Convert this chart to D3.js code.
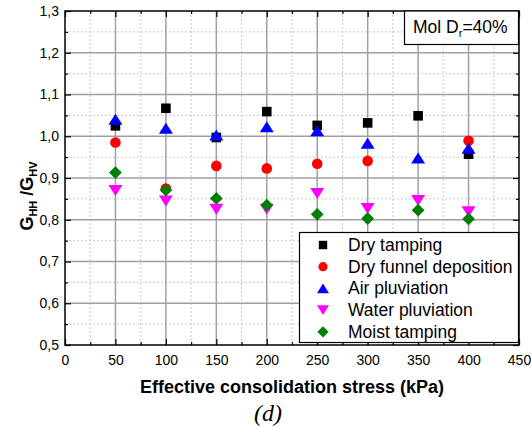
<!DOCTYPE html>
<html>
<head>
<meta charset="utf-8">
<script src="https://cdn.jsdelivr.net/npm/d3@7"></script>
<style>
  body { margin: 0; background: #fff; }
  text { font-family: "Liberation Sans", Arial, sans-serif; fill: #000; }
</style>
</head>
<body>
<div id="chart"></div>
<script>
// values
var stress = [50, 100, 150, 200, 250, 300, 350, 400];
var dryTamping = [1.025, 1.067, 0.997, 1.059, 1.026, 1.032, 1.049, 0.957];
var dryFunnel = [0.985, 0.875, 0.929, 0.923, 0.934, 0.941, null, 0.989];
var airPluv = [1.041, 1.019, 1.003, 1.023, 1.013, 0.983, 0.948, 0.971];
var waterPluv = [0.870, 0.845, 0.825, 0.825, 0.863, 0.827, 0.846, 0.819];
var moistTamp = [0.913, 0.871, 0.851, 0.835, 0.813, 0.803, 0.823, 0.802];

var seriesNames = ["Dry tamping", "Dry funnel deposition", "Air pluviation", "Water pluviation", "Moist tamping"];
var seriesValues = [dryTamping, dryFunnel, airPluv, waterPluv, moistTamp];
var seriesColors = ["#000000", "#ff0000", "#0000ff", "#ff00ff", "#008000"];
var seriesShapes = ["square", "circle", "up", "down", "diamond"];

var xTicks = [0, 50, 100, 150, 200, 250, 300, 350, 400, 450];
var yTicks = [0.5, 0.6, 0.7, 0.8, 0.9, 1.0, 1.1, 1.2, 1.3];

var W = 531, H = 427;
var pL = 65, pR = 519, pT = 11, pB = 345;

var svg = d3.select("#chart")
    .append("svg")
    .attr("width", W)
    .attr("height", H);

var x = d3.scaleLinear().domain([0, 450]).range([pL, pR]);
var y = d3.scaleLinear().domain([0.5, 1.3]).range([pB, pT]);

// minor grid (dotted)
var minorX = d3.range(25, 450, 50);
var minorY = d3.range(0.55, 1.3, 0.1);
svg.append("g").selectAll("line")
    .data(minorX).enter().append("line")
    .attr("x1", d => x(d)).attr("x2", d => x(d))
    .attr("y1", pT).attr("y2", pB)
    .attr("stroke", "#c8c8c8").attr("stroke-width", 1)
    .attr("stroke-dasharray", "2,2");
svg.append("g").selectAll("line")
    .data(minorY).enter().append("line")
    .attr("x1", pL).attr("x2", pR)
    .attr("y1", d => y(d)).attr("y2", d => y(d))
    .attr("stroke", "#c8c8c8").attr("stroke-width", 1)
    .attr("stroke-dasharray", "2,2");

// major grid
svg.append("g").selectAll("line")
    .data(xTicks.slice(1, -1)).enter().append("line")
    .attr("x1", d => x(d)).attr("x2", d => x(d))
    .attr("y1", pT).attr("y2", pB)
    .attr("stroke", "#a0a0a0").attr("stroke-width", 1.5);
svg.append("g").selectAll("line")
    .data(yTicks.slice(1, -1)).enter().append("line")
    .attr("x1", pL).attr("x2", pR)
    .attr("y1", d => y(d)).attr("y2", d => y(d))
    .attr("stroke", "#a0a0a0").attr("stroke-width", 1.5);

// axes with inward ticks on all four sides
var fmt = d => d3.format(".1f")(d).replace(".", ",");
svg.append("g")
    .attr("transform", "translate(0," + pB + ")")
    .call(d3.axisBottom(x).tickValues(xTicks).tickSize(-6).tickPadding(10).tickFormat(d3.format("d")));
svg.append("g")
    .attr("transform", "translate(" + pL + ",0)")
    .call(d3.axisLeft(y).tickValues(yTicks).tickSize(-6).tickPadding(6).tickFormat(fmt));
svg.append("g")
    .attr("transform", "translate(0," + pT + ")")
    .call(d3.axisTop(x).tickValues(xTicks).tickSize(-6).tickFormat(""));
svg.append("g")
    .attr("transform", "translate(" + pR + ",0)")
    .call(d3.axisRight(y).tickValues(yTicks).tickSize(-6).tickFormat(""));
// minor ticks
svg.append("g")
    .attr("transform", "translate(0," + pB + ")")
    .call(d3.axisBottom(x).tickValues(minorX).tickSize(-3).tickFormat(""));
svg.append("g")
    .attr("transform", "translate(" + pL + ",0)")
    .call(d3.axisLeft(y).tickValues(minorY).tickSize(-3).tickFormat(""));
svg.append("g")
    .attr("transform", "translate(0," + pT + ")")
    .call(d3.axisTop(x).tickValues(minorX).tickSize(-3).tickFormat(""));
svg.append("g")
    .attr("transform", "translate(" + pR + ",0)")
    .call(d3.axisRight(y).tickValues(minorY).tickSize(-3).tickFormat(""));

svg.selectAll(".domain").remove();
svg.selectAll(".tick line").attr("stroke", "#000").attr("stroke-width", 1.2);
svg.selectAll(".tick text").attr("font-size", 14).attr("fill", "#000")
    .attr("font-family", "Liberation Sans, Arial, sans-serif");

svg.append("rect")
    .attr("x", pL).attr("y", pT)
    .attr("width", pR - pL).attr("height", pB - pT)
    .attr("fill", "none").attr("stroke", "#000").attr("stroke-width", 1.5);

// markers
function shapePath(kind, s) {
    if (kind == "square") return "M" + (-s.sq) + "," + (-s.sq) + "h" + 2 * s.sq + "v" + 2 * s.sq + "h" + (-2 * s.sq) + "Z";
    if (kind == "circle") return d3.symbol(d3.symbolCircle, Math.PI * s.r * s.r)();
    if (kind == "up") return "M0," + (-s.th) + "L" + s.tw + "," + s.th + "L" + (-s.tw) + "," + s.th + "Z";
    if (kind == "down") return "M0," + s.th + "L" + s.tw + "," + (-s.th) + "L" + (-s.tw) + "," + (-s.th) + "Z";
    return "M0," + (-s.d) + "L" + s.d + ",0L0," + s.d + "L" + (-s.d) + ",0Z";
}
var big = { sq: 4.8, r: 5.3, tw: 7, th: 5.5, d: 6.4 };
var small = { sq: 4.2, r: 4.6, tw: 6, th: 4.8, d: 5.6 };

seriesValues.forEach(function (vals, i) {
    svg.append("g").selectAll("path")
        .data(stress.map((s, j) => [s, vals[j]]).filter(d => d[1] != null))
        .enter().append("path")
        .attr("transform", d => "translate(" + x(d[0]) + "," + y(d[1]) + ")")
        .attr("d", shapePath(seriesShapes[i], big))
        .attr("fill", seriesColors[i]);
});

// legend
var lg = svg.append("g");
lg.append("rect")
    .attr("x", 299.5).attr("y", 232.5).attr("width", 219).attr("height", 110)
    .attr("fill", "#fff").attr("stroke", "#000").attr("stroke-width", 1.2);
seriesNames.forEach(function (name, i) {
    var yy = 245 + i * 21.7;
    lg.append("path")
        .attr("transform", "translate(323," + yy + ")")
        .attr("d", shapePath(seriesShapes[i], small))
        .attr("fill", seriesColors[i]);
    lg.append("text")
        .attr("x", 348).attr("y", yy + 6)
        .attr("font-size", 17.5)
        .text(name);
});

// annotation box
svg.append("rect")
    .attr("x", 404.5).attr("y", pT).attr("width", 114).attr("height", 33.5)
    .attr("fill", "#fff").attr("stroke", "#000").attr("stroke-width", 1.2);
var ann = svg.append("text").attr("x", 413).attr("y", 33).attr("font-size", 17.5);
ann.append("tspan").text("Mol D");
ann.append("tspan").attr("font-size", 11).attr("dy", 4).text("r");
ann.append("tspan").attr("dy", -4).text("=40%");

// axis titles
svg.append("text")
    .attr("x", 292).attr("y", 393)
    .attr("text-anchor", "middle")
    .attr("font-size", 18).attr("font-weight", "bold")
    .text("Effective consolidation stress (kPa)");

var yl = svg.append("text")
    .attr("transform", "translate(33,196) rotate(-90)")
    .attr("text-anchor", "middle")
    .attr("font-size", 18).attr("font-weight", "bold");
yl.append("tspan").text("G");
yl.append("tspan").attr("font-size", 11).attr("dy", 4).text("HH");
yl.append("tspan").attr("dy", -4).text(" /G");
yl.append("tspan").attr("font-size", 11).attr("dy", 4).text("HV");

svg.append("text")
    .attr("x", 268).attr("y", 421)
    .attr("text-anchor", "middle")
    .style("font-family", "'Liberation Serif', 'Times New Roman', serif")
    .style("font-style", "italic").attr("font-size", 24)
    .text("(d)");
</script>
</body>
</html>
